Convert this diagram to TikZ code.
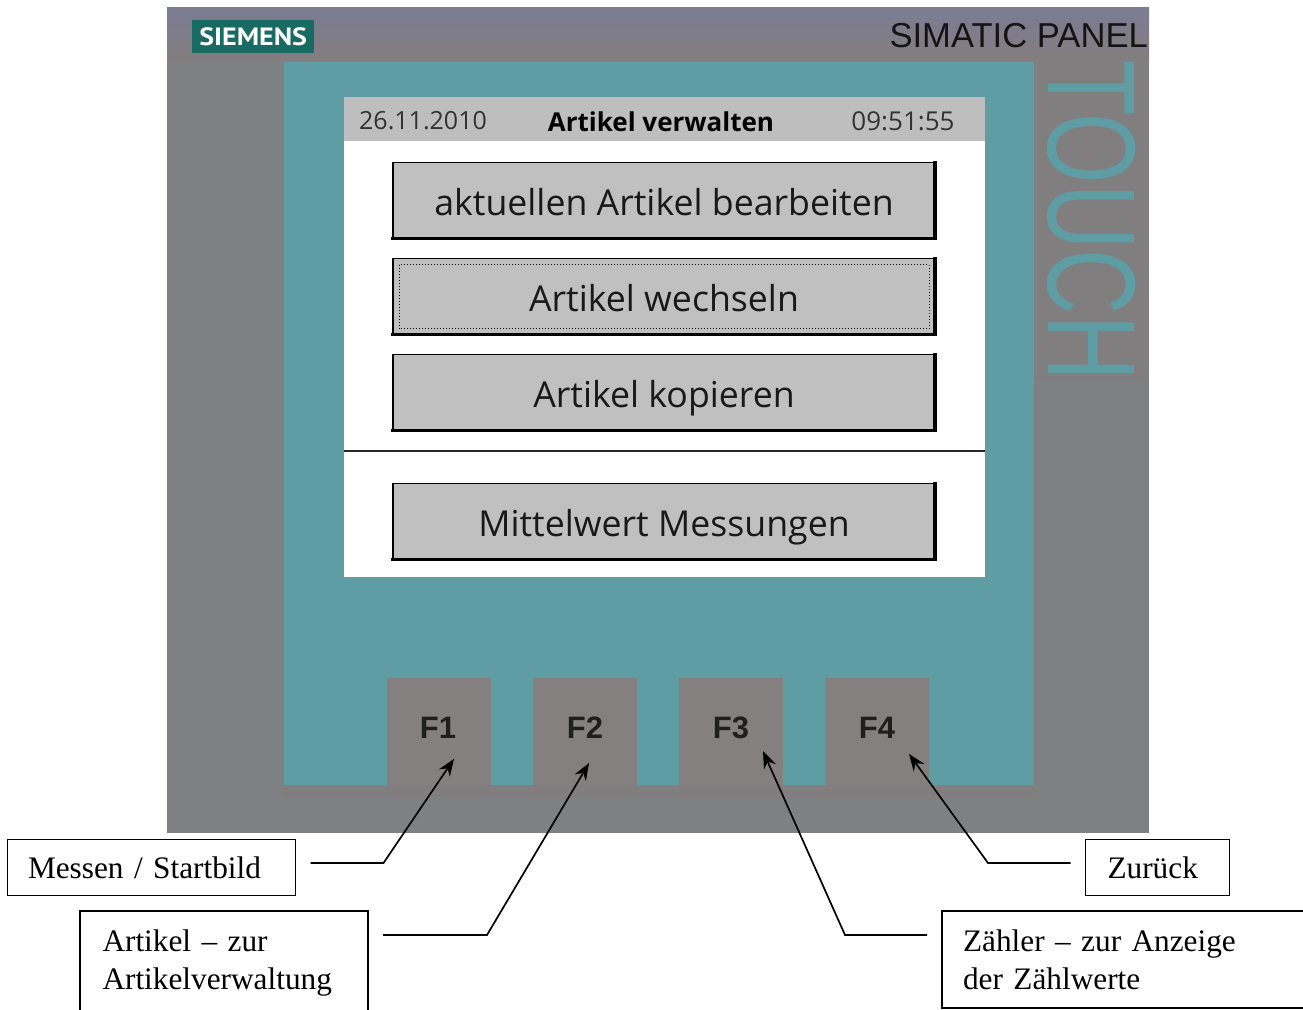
\documentclass[tikz,border=0pt]{standalone}
\usepackage{fontspec}
\setmainfont{Liberation Serif}
\newfontfamily\arialf{Liberation Sans}
\newfontfamily\hmifont{Open Sans}
\newfontfamily\logofont{PT Sans}
\usetikzlibrary{arrows.meta,calc}
\definecolor{panelgray}{HTML}{7F8081}
\definecolor{topgray}{HTML}{7C7C94}
\definecolor{midgray}{HTML}{857B7B}
\definecolor{tealc}{HTML}{5F9DA5}
\definecolor{keygray}{HTML}{858080}
\definecolor{headgray}{HTML}{BEBEBE}
\definecolor{btngray}{HTML}{C0C0C0}
\definecolor{logogreen}{HTML}{176B62}
\newcommand{\fs}[1]{\fontsize{#1}{#1}\selectfont}
\tikzset{
  x=1pt,y=-1pt,
  btn/.style={draw=black,line width=1.5,fill=btngray,minimum width=542,minimum height=76,anchor=north west,inner sep=0,outer sep=0,text=black!90,text height=29,text depth=0,font=\hmifont\fs{35.7}},
  fkey/.style={fill=keygray,minimum width=104,minimum height=107,anchor=north west,inner sep=0},
  flab/.style={font=\arialf\bfseries\fs{31},text=black!88,inner sep=0},
  note/.style={draw=black,line width=1.5,fill=white,anchor=north west,align=left,inner ysep=0,outer sep=0,font=\fs{31.3},text=black},
  conn/.style={draw=black,line width=1.7,-{Stealth[length=17,width=13]}},
  head/.style={font=\hmifont\fs{25},text=black!80,inner sep=0}
}
\begin{document}
\begin{tikzpicture}
\useasboundingbox (0,0) rectangle (1303,1009);
% panel
\fill[panelgray] (167,7) rectangle (1149,833);
\shade[top color=topgray,bottom color=midgray!55!panelgray] (167,7) rectangle (1149,60);
\fill[midgray!55!panelgray] (283,785) rectangle (1034,797);
\fill[tealc] (284,62) rectangle (1034,785);
\fill[midgray!30!panelgray] (1034,62) rectangle (1149,380);
% logo
\node[fill=logogreen,minimum width=122,minimum height=33,anchor=north west,inner sep=0,text=white,font=\logofont\bfseries\fs{25}] (logo) at (192,20) {\scalebox{1.12}[1]{SIEMENS}};
\node[anchor=east,inner sep=0,font=\arialf\fs{34.6},text=black!92] (title) at (1148,36) {SIMATIC PANEL};
\node[rotate=-90,inner sep=0,text=tealc,font=\arialf\fs{125},xscale=0.725] (touch) at (1092,220.5) {TOUCH};
% screen
\node[fill=white,minimum width=641,minimum height=480,anchor=north west,inner sep=0] (screen) at (344,97) {};
\node[fill=headgray,minimum width=641,minimum height=44,anchor=north west,inner sep=0] (header) at (344,97) {};
\node[head] (date) at (423,121) {26.11.2010};
\node[head,font=\hmifont\bfseries\fs{26},text=black] (screentitle) at (661,122) {Artikel verwalten};
\node[head,font=\hmifont\fs{26}] (time) at (903,121) {09:51:55};
% buttons
\node[btn] (b1) at (393,162.5) {aktuellen Artikel bearbeiten};
\node[btn] (b2) at (393,258.5) {Artikel wechseln};
\node[btn] (b3) at (393,354.5) {Artikel kopieren};
\node[btn] (b4) at (393,483.5) {Mittelwert Messungen};
\foreach \b in {b1,b2,b3,b4}{
  \draw[line width=3.5,line cap=rect] (\b.south west) -- (\b.south east) -- (\b.north east);
}
\draw[line width=1,dotted] ([shift={(6,6)}]b2.north west) rectangle ([shift={(-6,-6)}]b2.south east);
\draw[line width=1.5,draw=black!85] (344,451) -- (985,451);
% function keys
\node[fkey] (f1) at (387,678) {};
\node[fkey] (f2) at (533,678) {};
\node[fkey] (f3) at (679,678) {};
\node[fkey] (f4) at (825,678) {};
\node[flab] (l1) at (438,728) {F1};
\node[flab] (l2) at (585,728) {F2};
\node[flab] (l3) at (731,728) {F3};
\node[flab] (l4) at (877,728) {F4};
% notes
\node[note,text width=247,inner xsep=20.5,minimum height=56] (n1) at (7.5,839.5) {Messen / Startbild};
\node[note,text width=243,inner xsep=22.5,minimum height=103.5] (n2) at (80,911) {Artikel -- zur\\[6.7pt]Artikelverwaltung};
\node[note,text width=340,inner xsep=21,minimum height=97] (n3) at (942,911) {Zähler -- zur Anzeige\\[6.7pt]der Zählwerte};
\node[note,text width=100,inner xsep=22,minimum height=56] (n4) at (1085.5,839.5) {Zurück};
% connectors
\coordinate (s1) at ($(n1.east)+(15,-4.5)$);
\coordinate (s2) at ($(n2.east)+(15,-27.75)$);
\coordinate (s3) at ($(n3.west)+(-15,-24.5)$);
\coordinate (s4) at ($(n4.west)+(-15,-4.5)$);
\coordinate (e1) at (383.5,0 |- s1);
\coordinate (e2) at (487,0 |- s2);
\coordinate (e3) at (845,0 |- s3);
\coordinate (e4) at (988,0 |- s4);
\draw[conn] (s1) -- (e1) -- ($(l1.south)+(16,20)$);
\draw[conn] (s2) -- (e2) -- ($(l2.south)+(4,24)$);
\draw[conn] (s3) -- (e3) -- ($(l3.south)+(32,12)$);
\draw[conn] (s4) -- (e4) -- ($(l4.south)+(32,15)$);
\end{tikzpicture}
\end{document}
